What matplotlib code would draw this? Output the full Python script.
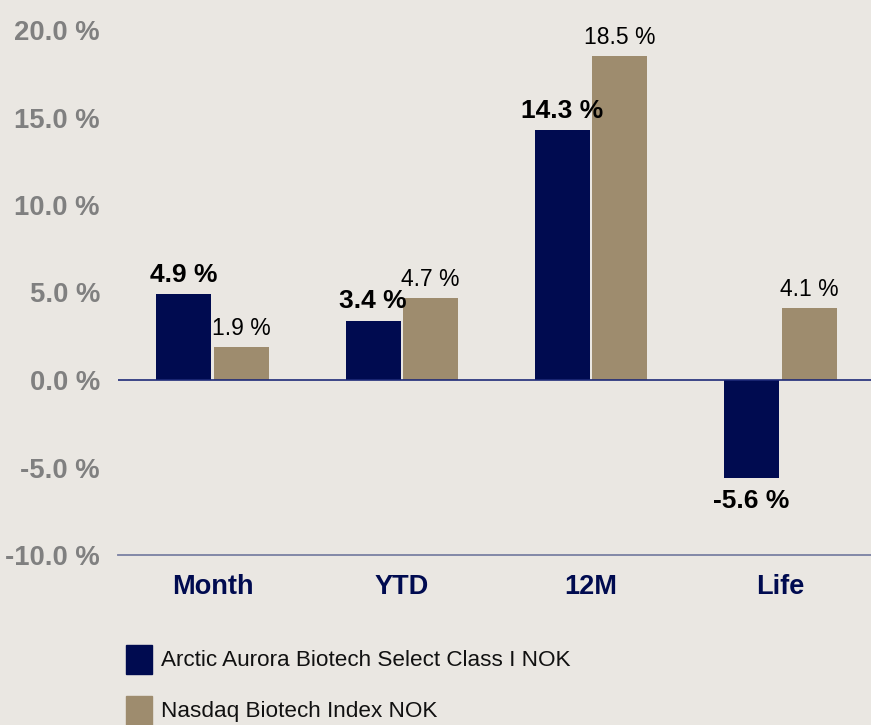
import matplotlib
matplotlib.use("Agg")
import matplotlib.pyplot as plt
from matplotlib.patches import Rectangle

categories = ["Month", "YTD", "12M", "Life"]
fund_values = [4.9, 3.4, 14.3, -5.6]
index_values = [1.9, 4.7, 18.5, 4.1]
series_names = ["Arctic Aurora Biotech Select Class I NOK", "Nasdaq Biotech Index NOK"]
yticks = [-10, -5, 0, 5, 10, 15, 20]

BG = "#EAE7E2"
NAVY = "#000B50"
TAN = "#9E8C6E"
FONT = "Liberation Sans"

W, H = 871, 725
fig = plt.figure(figsize=(W / 100, H / 100), dpi=100, facecolor=BG)
ax = fig.add_axes([118 / W, (H - 555) / H, 757 / W, 525 / H])
ax.set_facecolor(BG)

x = list(range(len(categories)))
bw = 0.29
off = 0.152
ax.bar([i - off for i in x], fund_values, width=bw, color=NAVY, zorder=2)
ax.bar([i + off for i in x], index_values, width=bw, color=TAN, zorder=2)

ax.set_xlim(-0.5, 3.5)
ax.set_ylim(-10, 20)

for s in ["top", "right", "left"]:
    ax.spines[s].set_visible(False)
ax.spines["bottom"].set_color("#7A80A2")
ax.spines["bottom"].set_linewidth(1.3)
ax.axhline(0, color="#1E2A78", linewidth=1.2, zorder=3)

ax.set_yticks(yticks)
ax.set_yticklabels([f"{v:.1f} %" for v in yticks], fontfamily=FONT,
                   fontsize=19.8, fontweight="bold", color="#808080")
ax.set_xticks(x)
ax.set_xticklabels(categories, fontfamily=FONT, fontsize=19.5,
                   fontweight="bold", color=NAVY)
ax.tick_params(axis="both", length=0)
ax.tick_params(axis="y", pad=13)
ax.tick_params(axis="x", pad=14)

for i, v in enumerate(fund_values):
    if v >= 0:
        ax.annotate(f"{v:.1f} %", (i - off, v), xytext=(0, 8.8), textcoords="offset points",
                    ha="center", va="baseline", fontfamily=FONT, fontsize=19,
                    fontweight="bold", color="black", zorder=4)
    else:
        ax.annotate(f"{v:.1f} %", (i - off, v), xytext=(0, -8), textcoords="offset points",
                    ha="center", va="top", fontfamily=FONT, fontsize=19,
                    fontweight="bold", color="black", zorder=4)
for i, v in enumerate(index_values):
    ax.annotate(f"{v:.1f} %", (i + off, v), xytext=(0, 8.8), textcoords="offset points",
                ha="center", va="baseline", fontfamily=FONT, fontsize=16.5,
                color="black", zorder=4)

# legend
colors = [NAVY, TAN]
tops = [645, 696]
for name, c, t in zip(series_names, colors, tops):
    fig.patches.append(Rectangle((126 / W, (H - t - 29) / H), 26 / W, 29 / H,
                                 transform=fig.transFigure, color=c))
    fig.text(161 / W, (H - t - 15) / H, name, fontfamily=FONT, fontsize=16.2,
             color="#111111", va="center", ha="left")

fig.savefig("out.png", dpi=100, facecolor=BG)
